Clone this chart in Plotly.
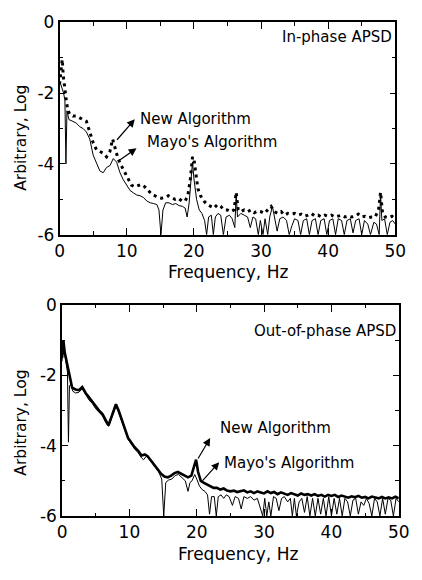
import plotly.graph_objects as go

# ---------------- data ----------------
# In-phase APSD, New Algorithm
in_new_f = [0, 0.2, 0.4, 0.55, 0.7, 0.85, 1.0, 1.2, 1.5, 2.0, 2.5, 3.0, 3.5, 4.0, 4.5, 5.0, 5.5, 6.0, 6.5,
            7.0, 7.5, 7.9, 8.3, 8.7, 9.2, 9.7, 10.2, 10.7, 11.2, 11.7, 12.2, 12.7, 13.2, 13.7, 14.2, 14.7,
            15.2, 15.7, 16.2, 16.7, 17.2, 17.7, 18.2, 18.7, 19.1, 19.5, 19.8, 20.0, 20.3, 20.6, 21.0, 21.5,
            22.0, 22.5, 23.0, 23.5, 24.0, 24.5, 25.0, 25.5, 26.0, 26.3, 26.6, 27.0, 27.5, 28.0, 28.5, 29.0,
            29.5, 30.0, 30.5, 31.0, 31.5, 32.0, 32.5, 33.0, 33.5, 34.0, 34.5, 35.0, 35.5, 36.0, 36.5, 37.0,
            37.5, 38.0, 38.5, 39.0, 39.5, 40.0, 40.5, 41.0, 41.5, 42.0, 42.5, 43.0, 43.5, 44.0, 44.5, 45.0,
            45.5, 46.0, 46.5, 47.0, 47.5, 47.8, 48.1, 48.5, 49.0, 49.5, 50.0]
in_new_v = [-1.75, -1.4, -1.05, -1.5, -1.8, -2.0, -2.2, -2.45, -2.6, -2.65, -2.65, -2.7, -2.75, -2.8, -3.1,
            -3.4, -3.6, -3.65, -3.7, -3.8, -3.65, -3.3, -3.6, -3.85, -4.05, -4.25, -4.45, -4.6, -4.65, -4.62,
            -4.58, -4.65, -4.75, -4.85, -4.9, -4.95, -4.97, -4.95, -4.9, -4.95, -5.0, -4.97, -5.05, -5.05,
            -4.9, -4.4, -3.8, -3.85, -4.3, -4.7, -4.9, -5.05, -5.15, -5.2, -5.25, -5.15, -5.2, -5.3, -5.3,
            -5.35, -5.3, -4.8, -5.3, -5.35, -5.3, -5.35, -5.3, -5.38, -5.33, -5.35, -5.4, -5.3, -5.2, -5.35,
            -5.4, -5.35, -5.45, -5.4, -5.42, -5.4, -5.45, -5.42, -5.48, -5.45, -5.4, -5.47, -5.45, -5.5,
            -5.45, -5.48, -5.45, -5.5, -5.47, -5.45, -5.5, -5.47, -5.5, -5.48, -5.42, -5.5, -5.48, -5.52,
            -5.5, -5.5, -5.3, -4.8, -5.4, -5.5, -5.52, -5.48, -5.55]

# In-phase APSD, Mayo's Algorithm
in_mayo_f = [0, 0.3, 0.6, 0.8, 0.95, 1.1, 1.4, 2.0, 2.5, 3.0, 3.5, 4.0, 4.5, 5.0, 5.5, 6.0, 6.5, 7.0, 7.5,
             8.0, 8.5, 9.0, 9.5, 10.0, 10.5, 11.0, 11.5, 12.0, 12.5, 13.0, 13.5, 14.0, 14.5, 14.8, 15.1,
             15.4, 15.8, 16.3, 16.8, 17.3, 17.8, 18.3, 18.7, 19.0, 19.3, 19.6, 19.8, 20.0, 20.4, 20.8, 21.2,
             21.6, 21.9, 22.2, 22.6, 22.9, 23.2, 23.6, 24.0, 24.4, 24.8, 25.3, 25.7, 26.1, 26.3, 26.5, 27.0,
             27.5, 28.0, 28.4, 28.8, 29.2, 29.6, 29.9, 30.3, 30.6, 31.0, 31.3, 31.7, 32.0, 32.4, 32.8, 33.3,
             33.8, 34.2, 34.6, 35.0, 35.5, 35.9, 36.3, 36.8, 37.2, 37.6, 38.1, 38.5, 38.9, 39.4, 39.8, 40.2,
             40.7, 41.1, 41.5, 42.0, 42.4, 42.8, 43.3, 43.7, 44.1, 44.6, 45.0, 45.4, 45.9, 46.3, 46.8, 47.2,
             47.6, 47.8, 48.0, 48.4, 48.8, 49.2, 49.6, 50.0]
in_mayo_v = [-1.65, -1.8, -2.0, -2.2, -4.0, -2.5, -2.75, -2.8, -2.85, -2.95, -3.0, -3.1, -3.3, -3.75, -4.0,
             -4.2, -4.25, -4.1, -4.05, -3.85, -3.95, -4.25, -4.45, -4.6, -4.75, -4.82, -4.88, -4.9, -4.95,
             -5.05, -5.1, -5.12, -5.15, -5.3, -6.0, -5.3, -5.1, -5.1, -5.15, -5.12, -5.18, -5.2, -5.25, -5.5,
             -5.1, -4.4, -3.95, -4.4, -5.0, -5.3, -5.4, -5.6, -6.0, -5.5, -5.45, -6.0, -5.5, -5.4, -5.45,
             -6.0, -5.5, -5.45, -5.55, -5.8, -4.85, -5.5, -5.4, -5.45, -5.5, -5.8, -5.5, -5.55, -6.0, -5.6,
             -6.0, -5.55, -6.0, -5.5, -5.2, -5.5, -5.9, -5.55, -5.5, -5.6, -6.0, -5.75, -5.55, -5.6, -6.0,
             -5.6, -5.55, -6.0, -5.6, -5.55, -6.0, -5.6, -5.55, -6.0, -5.6, -5.55, -6.0, -5.55, -5.6, -6.0,
             -5.6, -5.55, -5.95, -5.6, -5.55, -6.0, -5.6, -5.7, -6.0, -5.65, -5.7, -6.0, -4.85, -5.6, -5.55,
             -6.0, -5.65, -5.6, -5.7]

# Out-of-phase APSD, New Algorithm
out_new_f = [0, 0.2, 0.4, 0.6, 0.8, 1.0, 1.2, 1.5, 2.0, 2.5, 3.0, 3.5, 4.0, 4.5, 5.0, 5.5, 6.0, 6.5, 6.9,
             7.3, 7.7, 8.0, 8.4, 8.8, 9.3, 9.8, 10.3, 10.8, 11.3, 11.8, 12.3, 12.7, 13.2, 13.7, 14.2, 14.7,
             15.2, 15.7, 16.2, 16.7, 17.2, 17.7, 18.2, 18.7, 19.2, 19.6, 19.9, 20.2, 20.6, 21.0, 21.5, 22.0,
             22.5, 23.0, 23.5, 24.0, 24.5, 25.0, 25.5, 26.0, 26.5, 27.0, 27.5, 28.0, 28.5, 29.0, 29.5, 30.0,
             30.5, 31.0, 31.5, 32.0, 32.5, 33.0, 33.5, 34.0, 34.5, 35.0, 35.5, 36.0, 36.5, 37.0, 37.5, 38.0,
             38.5, 39.0, 39.5, 40.0, 40.5, 41.0, 41.5, 42.0, 42.5, 43.0, 43.5, 44.0, 44.5, 45.0, 45.5, 46.0,
             46.5, 47.0, 47.5, 48.0, 48.5, 49.0, 49.5, 50.0]
out_new_v = [-1.5, -1.0, -1.35, -1.55, -1.7, -1.95, -2.15, -2.35, -2.4, -2.42, -2.33, -2.5, -2.62, -2.75,
             -2.88, -3.0, -3.1, -3.3, -3.42, -3.2, -2.95, -2.82, -3.0, -3.2, -3.5, -3.78, -3.92, -4.05, -4.15,
             -4.28, -4.25, -4.3, -4.42, -4.55, -4.65, -4.8, -4.88, -4.9, -4.85, -4.78, -4.75, -4.8, -4.85,
             -4.9, -4.85, -4.6, -4.4, -4.75, -5.0, -5.05, -5.1, -5.15, -5.2, -5.2, -5.25, -5.22, -5.28, -5.3,
             -5.28, -5.32, -5.3, -5.27, -5.33, -5.3, -5.35, -5.3, -5.33, -5.36, -5.3, -5.35, -5.32, -5.38,
             -5.33, -5.36, -5.4, -5.35, -5.38, -5.42, -5.36, -5.4, -5.38, -5.42, -5.38, -5.43, -5.4, -5.45,
             -5.4, -5.43, -5.4, -5.46, -5.42, -5.45, -5.48, -5.44, -5.47, -5.43, -5.48, -5.46, -5.5, -5.45,
             -5.48, -5.5, -5.46, -5.5, -5.47, -5.5, -5.45, -5.5]

# Out-of-phase APSD, Mayo's Algorithm
out_mayo_f = [0, 0.2, 0.4, 0.6, 0.8, 0.95, 1.1, 1.3, 1.6, 2.0, 2.5, 3.0, 3.5, 4.0, 4.5, 5.0, 5.5, 6.0, 6.5,
              6.9, 7.3, 7.7, 8.0, 8.4, 8.8, 9.3, 9.8, 10.3, 10.8, 11.3, 11.8, 12.1, 12.5, 12.9, 13.3, 13.8,
              14.3, 14.8, 15.1, 15.4, 15.8, 16.3, 16.8, 17.3, 17.8, 18.3, 18.7, 19.0, 19.3, 19.7, 20.0, 20.4,
              20.8, 21.2, 21.6, 21.9, 22.2, 22.6, 22.9, 23.2, 23.6, 24.0, 24.4, 24.8, 25.3, 25.7, 26.2, 26.6,
              27.0, 27.5, 28.0, 28.5, 29.0, 29.4, 29.8, 30.1, 30.4, 30.7, 31.0, 31.4, 31.8, 32.2, 32.6, 33.0,
              33.5, 33.9, 34.2, 34.5, 34.8, 35.2, 35.6, 36.0, 36.4, 36.8, 37.2, 37.6, 38.0, 38.4, 38.8, 39.2,
              39.6, 40.0, 40.4, 40.8, 41.2, 41.6, 42.0, 42.4, 42.8, 43.2, 43.6, 44.0, 44.4, 44.8, 45.2, 45.6,
              46.0, 46.4, 46.8, 47.2, 47.6, 48.0, 48.4, 48.8, 49.2, 49.6, 50.0]
out_mayo_v = [-1.6, -1.15, -1.4, -1.6, -1.9, -3.9, -2.3, -2.25, -2.45, -2.5, -2.48, -2.38, -2.55, -2.7, -2.8,
              -2.95, -3.05, -3.15, -3.35, -3.45, -3.25, -3.0, -2.88, -3.05, -3.25, -3.55, -3.82, -3.98, -4.1,
              -4.2, -4.35, -4.4, -4.3, -4.38, -4.48, -4.6, -4.72, -4.95, -6.0, -5.05, -4.98, -4.95, -4.85,
              -4.82, -4.92, -5.0, -5.3, -5.05, -5.0, -4.82, -4.95, -5.15, -5.25, -5.3, -5.4, -5.95, -5.45,
              -5.45, -6.0, -5.45, -5.4, -5.5, -5.4, -5.45, -5.7, -5.45, -5.5, -5.8, -5.45, -5.5, -5.45, -5.55,
              -5.5, -5.75, -6.0, -5.5, -6.0, -5.6, -6.0, -5.45, -5.5, -5.85, -5.5, -5.45, -5.6, -5.5, -6.0,
              -5.5, -6.0, -5.6, -5.5, -5.9, -5.45, -6.0, -5.5, -6.0, -5.5, -5.95, -5.5, -6.0, -5.45, -6.0,
              -5.5, -5.95, -5.5, -6.0, -5.5, -5.6, -6.0, -5.55, -5.5, -5.95, -5.6, -5.7, -5.5, -5.65, -6.0,
              -5.5, -5.6, -6.0, -5.5, -5.95, -5.5, -5.55, -6.0, -5.5, -5.6]

x_tick_vals = [0, 10, 20, 30, 40, 50]
x_tick_text = ["0", "10", "20", "30", "40", "50"]
y_tick_vals = [-6, -4, -2, 0]
y_tick_text = ["-6", "-4", "-2", "0"]

# ---------------- figure ----------------
W, H = 422, 580
FONT = "DejaVu Sans"

fig = go.Figure()
fig.add_trace(go.Scatter(x=in_mayo_f, y=in_mayo_v, mode="lines",
                         line=dict(color="black", width=1), xaxis="x", yaxis="y"))
fig.add_trace(go.Scatter(x=in_new_f, y=in_new_v, mode="lines",
                         line=dict(color="black", width=3, dash="3px,4px"), xaxis="x", yaxis="y"))
fig.add_trace(go.Scatter(x=out_mayo_f, y=out_mayo_v, mode="lines",
                         line=dict(color="black", width=1), xaxis="x2", yaxis="y2"))
fig.add_trace(go.Scatter(x=out_new_f, y=out_new_v, mode="lines",
                         line=dict(color="black", width=2.6), xaxis="x2", yaxis="y2"))


def px_x(p):
    return p / W


def px_y(p):
    return 1 - p / H


def xax(domain, anchor):
    return dict(domain=domain, anchor=anchor, range=[0, 50], tickvals=x_tick_vals, ticktext=x_tick_text,
                ticks="inside", ticklen=7, tickwidth=1.3, tickcolor="black",
                minor=dict(dtick=5, ticks="inside", ticklen=3.5, tickwidth=1.2, tickcolor="black"),
                showline=True, linecolor="black", linewidth=1.6, mirror="ticks",
                showgrid=False, zeroline=False,
                tickfont=dict(family=FONT, size=17, color="black"), fixedrange=True)


def yax(domain, anchor):
    return dict(domain=domain, anchor=anchor, range=[-6, 0], tickvals=y_tick_vals, ticktext=y_tick_text,
                ticks="inside", ticklen=6, tickwidth=1.3, tickcolor="black",
                minor=dict(dtick=1, ticks="inside", ticklen=3.5, tickwidth=1.2, tickcolor="black"),
                showline=True, linecolor="black", linewidth=1.6, mirror="ticks",
                showgrid=False, zeroline=False,
                tickfont=dict(family=FONT, size=17, color="black"), fixedrange=True)


fig.update_layout(
    width=W, height=H, margin=dict(l=0, r=0, t=0, b=0),
    paper_bgcolor="white", plot_bgcolor="white", showlegend=False,
    xaxis=xax([px_x(56.7), px_x(405.7)], "y"),
    yaxis=yax([px_y(232.7), px_y(12.7)], "x"),
    xaxis2=xax([px_x(59.3), px_x(409.3)], "y2"),
    yaxis2=yax([px_y(524), px_y(305.7)], "x2"),
)

tf = dict(family=FONT, size=15, color="black")
af = dict(family=FONT, size=17, color="black")
ann = [
    # axis titles
    dict(text="Frequency, Hz", x=px_x(232), y=px_y(271), font=af),
    dict(text="Frequency, Hz", x=px_x(242), y=px_y(563), font=af),
    dict(text="Arbitrary, Log", x=px_x(17), y=px_y(132), font=dict(family=FONT, size=15.5, color="black"),
         textangle=-90),
    dict(text="Arbitrary, Log", x=px_x(17), y=px_y(427), font=dict(family=FONT, size=15.5, color="black"),
         textangle=-90),
    # panel labels
    dict(text="In-phase APSD", x=px_x(404), y=px_y(28), xanchor="right", font=tf),
    dict(text="Out-of-phase APSD", x=px_x(409), y=px_y(332), xanchor="right", font=tf),
    dict(text="New Algorithm", x=px_x(138), y=px_y(113), xanchor="left", font=tf),
    dict(text="Mayo's Algorithm", x=px_x(146), y=px_y(137), xanchor="left", font=tf),
    dict(text="New Algorithm", x=px_x(221), y=px_y(433), xanchor="left", font=tf),
    dict(text="Mayo's Algorithm", x=px_x(226), y=px_y(469), xanchor="left", font=tf),
]
for a in ann:
    a.setdefault("xanchor", "center")
    a.update(xref="paper", yref="paper", showarrow=False, yanchor="middle")
    fig.add_annotation(**a)

arrows = [
    dict(x=11.2, y=-2.74, ax=-19, ay=22, xref="x", yref="y"),
    dict(x=11.46, y=-3.56, ax=-20, ay=14, xref="x", yref="y"),
    dict(x=22.0, y=-3.78, ax=-13, ay=22, xref="x2", yref="y2"),
    dict(x=23.34, y=-4.47, ax=-18, ay=20, xref="x2", yref="y2"),
]
for a in arrows:
    fig.add_annotation(text="", showarrow=True, arrowhead=2, arrowsize=1.3, arrowwidth=1.2,
                       arrowcolor="black", **a)

fig.write_html("out.html")
